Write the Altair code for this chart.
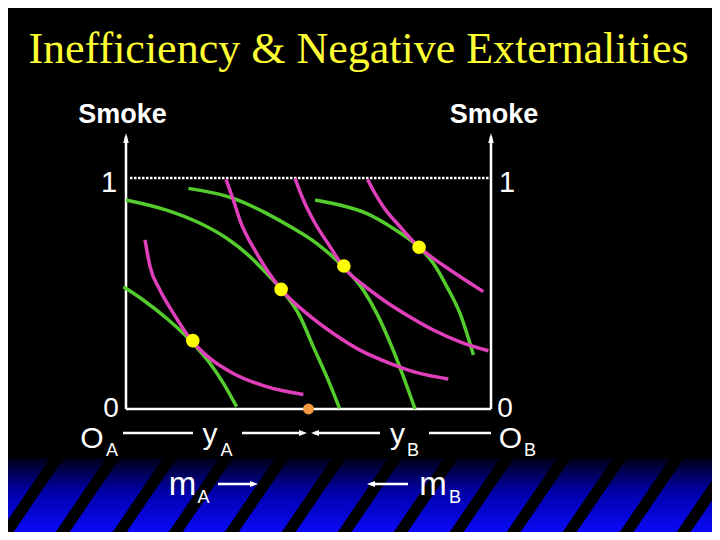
import altair as alt
import pandas as pd

# ---------------- data (box units: x = 0 at O_A .. 1 at O_B, y = smoke 0..1) -------------
green_1_x = [-0.007, 0.047, 0.111, 0.175, 0.230, 0.267, 0.303]
green_1_y = [0.529, 0.472, 0.393, 0.299, 0.198, 0.111, 0.010]
green_2_x = [0.000, 0.111, 0.203, 0.276, 0.340, 0.385, 0.427, 0.477, 0.513, 0.550, 0.585]
green_2_y = [0.905, 0.861, 0.804, 0.739, 0.659, 0.587, 0.515, 0.400, 0.270, 0.140, 0.003]
green_3_x = [0.171, 0.294, 0.385, 0.458, 0.522, 0.595, 0.650, 0.687, 0.732, 0.792]
green_3_y = [0.955, 0.912, 0.847, 0.782, 0.717, 0.616, 0.515, 0.414, 0.255, 0.000]
green_4_x = [0.518, 0.586, 0.659, 0.732, 0.801, 0.842, 0.879, 0.915, 0.952]
green_4_y = [0.905, 0.883, 0.847, 0.782, 0.703, 0.631, 0.530, 0.414, 0.234]

magenta_1_x = [0.052, 0.066, 0.093, 0.130, 0.175, 0.230, 0.294, 0.385, 0.486]
magenta_1_y = [0.732, 0.616, 0.515, 0.414, 0.306, 0.219, 0.154, 0.097, 0.063]
magenta_2_x = [0.274, 0.294, 0.312, 0.358, 0.427, 0.495, 0.568, 0.641, 0.723, 0.805, 0.883]
magenta_2_y = [0.994, 0.905, 0.818, 0.674, 0.515, 0.414, 0.327, 0.255, 0.198, 0.154, 0.130]
magenta_3_x = [0.463, 0.486, 0.513, 0.559, 0.595, 0.650, 0.705, 0.769, 0.842, 0.915, 0.993]
magenta_3_y = [0.999, 0.905, 0.818, 0.703, 0.616, 0.537, 0.472, 0.407, 0.342, 0.291, 0.252]
magenta_4_x = [0.662, 0.682, 0.705, 0.751, 0.801, 0.842, 0.888, 0.979]
magenta_4_y = [0.994, 0.934, 0.876, 0.789, 0.703, 0.652, 0.602, 0.508]

tangency_x = [0.183, 0.425, 0.597, 0.803]
tangency_y = [0.296, 0.518, 0.619, 0.700]
endowment_x = [0.500]
endowment_y = [0.000]

title_text = "Inefficiency & Negative Externalities"
label_texts = ["1", "1", "0", "0", "O", "A", "y", "A", "y", "B", "O", "B", "m", "A", "m", "B"]
smoke_texts = ["Smoke", "Smoke"]

# ---------------- layout (positions in box units) ----------------
X_DOMAIN = [-0.32329, 1.60548]
Y_DOMAIN = [-0.53247, 1.73593]
W, H = 704, 524
GREEN, MAGENTA = "#55cc2e", "#e03fbb"
FONT = "Liberation Sans"

label_x = [-0.0466, 1.0438, -0.0411, 1.0384, -0.0932, -0.0384, 0.2301, 0.2753,
           0.7438, 0.7863, 1.0534, 1.1068, 0.1548, 0.2123, 0.8411, 0.9014]
label_y = [0.9394, 0.9394, -0.0346, -0.0346, -0.1688, -0.2035, -0.1515, -0.2035,
           -0.1515, -0.2035, -0.1688, -0.2035, -0.3723, -0.4069, -0.3723, -0.4069]
label_size = [29, 29, 28, 28, 30, 18, 30, 18, 30, 18, 30, 18, 33, 18, 33, 18]
smoke_x = [-0.0096, 1.0082]
smoke_y = [1.2381, 1.2381]

xs = alt.Scale(domain=X_DOMAIN, nice=False, zero=False)
ys = alt.Scale(domain=Y_DOMAIN, nice=False, zero=False)


def ex(f="x"):
    return alt.X(f"{f}:Q", scale=xs, axis=None)


def ey(f="y"):
    return alt.Y(f"{f}:Q", scale=ys, axis=None)


# ---- background band with stripes
band = alt.Chart(pd.DataFrame([{"x": X_DOMAIN[0], "x2": X_DOMAIN[1], "y": -0.2121, "y2": Y_DOMAIN[0]}])).mark_rect(
    clip=True,
    color=alt.Gradient(
        gradient="linear", x1=0, x2=0, y1=0, y2=1,
        stops=[alt.GradientStop(color="#000014", offset=0),
               alt.GradientStop(color="#0000a8", offset=0.45),
               alt.GradientStop(color="#0a0af8", offset=1)],
    ),
).encode(x=ex(), x2="x2:Q", y=ey(), y2="y2:Q")

stripe_centres = [-0.3433, -0.1890, -0.0356, 0.1205, 0.2740, 0.4274, 0.5836, 0.7370,
                  0.8904, 1.0438, 1.2000, 1.3534, 1.5096, 1.6658]
stripes_df = pd.DataFrame({"c": stripe_centres})
stripes_df["x"] = stripes_df["c"] + 0.0112
stripes_df["x2"] = stripes_df["c"] - 0.1621
stripes_df["y"] = -0.1861
stripes_df["y2"] = -0.5887
stripes = alt.Chart(stripes_df).mark_rule(color="black", strokeWidth=11.5, clip=True).encode(
    x=ex(), x2="x2:Q", y=ey(), y2="y2:Q")

# ---- box
box_df = pd.DataFrame([
    {"x": 0.0, "x2": 0.0, "y": 0.0, "y2": 1.18},
    {"x": 1.0, "x2": 1.0, "y": 0.0, "y2": 1.18},
    {"x": 0.0, "x2": 1.0, "y": 0.0, "y2": 0.0},
])
box = alt.Chart(box_df).mark_rule(color="white", strokeWidth=2.5).encode(
    x=ex(), x2="x2:Q", y=ey(), y2="y2:Q")
dotted = alt.Chart(pd.DataFrame([{"x": 0.011, "x2": 0.997, "y": 1.0}])).mark_rule(
    color="white", strokeWidth=2.5, strokeDash=[2.5, 1.5]).encode(x=ex(), x2="x2:Q", y=ey())

up_head = "M0,-1L0.55,1L-0.55,1Z"
right_head = "M1,0L-1,-0.75L-1,0.75Z"
left_head = "M-1,0L1,-0.75L1,0.75Z"
heads_df = pd.DataFrame([
    {"x": 0.0, "y": 1.1732, "s": "up", "sz": 100},
    {"x": 1.0, "y": 1.1732, "s": "up", "sz": 100},
    {"x": 0.4849, "y": -0.1039, "s": "right", "sz": 64},
    {"x": 0.5178, "y": -0.1039, "s": "left", "sz": 64},
    {"x": 0.3507, "y": -0.3247, "s": "right", "sz": 64},
    {"x": 0.6712, "y": -0.3247, "s": "left", "sz": 64},
])
heads = alt.Chart(heads_df).mark_point(filled=True, color="white", opacity=1, strokeWidth=0).encode(
    x=ex(), y=ey(),
    shape=alt.Shape("s:N", scale=alt.Scale(domain=["up", "right", "left"],
                                           range=[up_head, right_head, left_head]), legend=None),
    size=alt.Size("sz:Q", scale=None),
)

arrows_df = pd.DataFrame([
    {"x": -0.0082, "x2": 0.1836, "y": -0.1039},
    {"x": 0.3178, "x2": 0.4849, "y": -0.1039},
    {"x": 0.5178, "x2": 0.6959, "y": -0.1039},
    {"x": 0.8301, "x2": 1.0, "y": -0.1039},
    {"x": 0.2521, "x2": 0.3507, "y": -0.3247},
    {"x": 0.6712, "x2": 0.7726, "y": -0.3247},
])
arrows = alt.Chart(arrows_df).mark_rule(color="white", strokeWidth=2.5).encode(x=ex(), x2="x2:Q", y=ey())

# ---- curves
curves = {
    "g1": (green_1_x, green_1_y, "green"), "g2": (green_2_x, green_2_y, "green"),
    "g3": (green_3_x, green_3_y, "green"), "g4": (green_4_x, green_4_y, "green"),
    "m1": (magenta_1_x, magenta_1_y, "magenta"), "m2": (magenta_2_x, magenta_2_y, "magenta"),
    "m3": (magenta_3_x, magenta_3_y, "magenta"), "m4": (magenta_4_x, magenta_4_y, "magenta"),
}
rows = []
for name, (cx, cy, fam) in curves.items():
    for i, (a, b) in enumerate(zip(cx, cy)):
        rows.append({"curve": name, "family": fam, "x": a, "y": b, "i": i})
curve_df = pd.DataFrame(rows)
lines = alt.Chart(curve_df).mark_line(strokeWidth=3.5, interpolate="monotone").encode(
    x=ex(), y=ey(), detail="curve:N", order="i:Q",
    color=alt.Color("family:N", scale=alt.Scale(domain=["green", "magenta"], range=[GREEN, MAGENTA]),
                    legend=None),
)

dots = alt.Chart(pd.DataFrame({"x": tangency_x, "y": tangency_y})).mark_circle(
    size=185, color="#ffff00", opacity=1).encode(x=ex(), y=ey())
orange = alt.Chart(pd.DataFrame({"x": endowment_x, "y": endowment_y})).mark_circle(
    size=120, color="#f39a40", opacity=1).encode(x=ex(), y=ey())

# ---- texts
title = alt.Chart(pd.DataFrame([{"t": title_text, "x": 0.637, "y": 1.4978}])).mark_text(
    font="Liberation Serif", fontSize=44, color="#ffff33", baseline="alphabetic", align="center"
).encode(x=ex(), y=ey(), text="t:N")
smoke = alt.Chart(pd.DataFrame({"t": smoke_texts, "x": smoke_x, "y": smoke_y})).mark_text(
    font=FONT, fontSize=27, fontWeight="bold", color="white", baseline="alphabetic", align="center"
).encode(x=ex(), y=ey(), text="t:N")
labels = alt.Chart(pd.DataFrame({"t": label_texts, "x": label_x, "y": label_y, "s": label_size})).mark_text(
    font=FONT, color="white", baseline="alphabetic", align="center"
).encode(x=ex(), y=ey(), text="t:N", size=alt.Size("s:Q", scale=None))

chart = alt.layer(
    band, stripes, box, dotted, heads, arrows, lines, dots, orange, title, smoke, labels
).properties(
    width=W, height=H, background="black", padding=0, autosize="none"
).configure_view(stroke=None)

chart.save("out.html", embed_options={"renderer": "svg", "actions": False})
